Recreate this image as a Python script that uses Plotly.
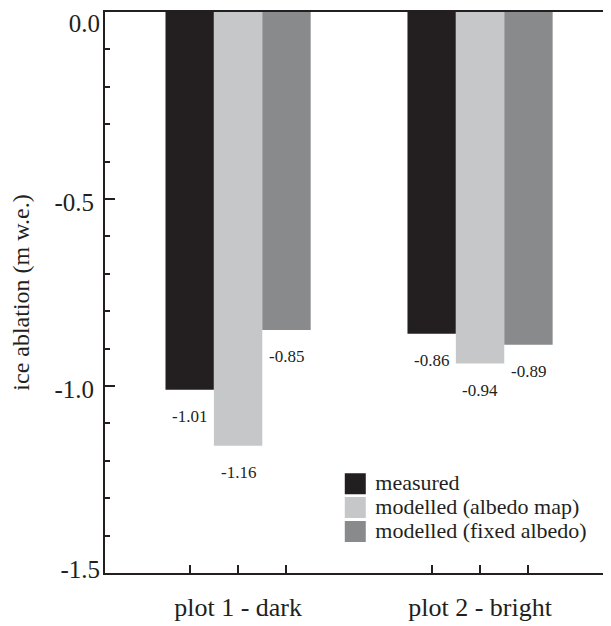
import plotly.graph_objects as go

categories = ["plot 1 - dark", "plot 2 - bright"]
series_names = ["measured", "modelled (albedo map)", "modelled (fixed albedo)"]
measured = [-1.01, -0.86]
albedo_map = [-1.16, -0.94]
fixed_albedo = [-0.85, -0.89]
y_tick_vals = [0.0, -0.5, -1.0, -1.5]
y_tick_text = ["0.0", "-0.5", "-1.0", "-1.5"]
y_title = "ice ablation (m w.e.)"

series_values = [measured, albedo_map, fixed_albedo]
colors = ["#231f20", "#c6c7c9", "#898a8c"]
ink = "#231f20"
FONT = "Liberation Serif, Times New Roman, serif"

n_series = len(series_values)
bargap = 0.4
bar_w = (1 - bargap) / n_series
group_x = list(range(len(categories)))
y_range = [min(y_tick_vals), max(y_tick_vals)]

fig = go.Figure()
for i, (name, vals, col) in enumerate(zip(series_names, series_values, colors)):
    fig.add_trace(go.Bar(
        x=group_x, y=vals, name=name, marker=dict(color=col, line=dict(width=0)),
        showlegend=False, offsetgroup=str(i),
    ))

# legend entries with larger square swatches
for name, col in zip(series_names, colors):
    fig.add_trace(go.Scatter(
        x=[None], y=[None], mode="markers",
        name=f'<span style="font-size:22px">{name}</span>',
        marker=dict(symbol="square", size=16, color=col, line=dict(color=col, width=5)),
    ))

# empty helper traces so the overlay axes (ticks / nudged labels) are drawn
for xa, ya in [("x2", "y"), ("x", "y2"), ("x", "y3"), ("x", "y4")]:
    fig.add_trace(go.Scatter(x=[None], y=[None], xaxis=xa, yaxis=ya, mode="markers",
                             showlegend=False, hoverinfo="skip"))

bar_centers = []
annotations = []
for i, vals in enumerate(series_values):
    for g, v in zip(group_x, vals):
        xc = g + (i - (n_series - 1) / 2) * bar_w
        bar_centers.append(xc)
        annotations.append(dict(
            x=xc, y=v, xref="x", yref="y", text=f"{v:.2f}", showarrow=False,
            yshift=-27, font=dict(size=17, color=ink, family=FONT),
        ))

x_range = [-0.55, 1.537]
tickfont_y = dict(size=25, color=ink, family=FONT)

# inner labels on main axis; end labels nudged inward on overlay axes
main_text = [t if v not in (y_range[0], y_range[1]) else "" for v, t in zip(y_tick_vals, y_tick_text)]
top_idx = y_tick_vals.index(y_range[1])
bot_idx = y_tick_vals.index(y_range[0])

def label_axis(idx, shift):
    return dict(
        overlaying="y", anchor="x", side="left", range=y_range,
        tickvals=[y_tick_vals[idx]], ticktext=[y_tick_text[idx]], ticks="",
        showline=False, showgrid=False, zeroline=False, automargin=False,
        tickfont=tickfont_y, ticklabelstandoff=4, ticklabeloverflow="allow",
        ticklabelshift=shift,
    )

fig.update_layout(
    width=603, height=618,
    margin=dict(l=97, r=1, t=4, b=53, autoexpand=False),
    paper_bgcolor="white", plot_bgcolor="white",
    barmode="group", bargap=bargap, bargroupgap=0,
    font=dict(family=FONT, color=ink),
    annotations=annotations,
    showlegend=True,
    legend=dict(
        x=0.456, y=0.116, xanchor="left", yanchor="middle",
        font=dict(size=16, color=ink, family=FONT),
        bgcolor="rgba(0,0,0,0)", itemsizing="trace", tracegroupgap=0,
    ),
    xaxis=dict(
        range=x_range, tickvals=group_x, ticktext=categories, ticks="",
        showline=True, linecolor=ink, linewidth=2, mirror=True,
        showgrid=False, zeroline=False, automargin=False,
        tickfont=dict(size=26, color=ink, family=FONT),
        ticklabelstandoff=10, ticklabeloverflow="allow",
    ),
    xaxis2=dict(
        overlaying="x", anchor="y", side="bottom", range=x_range,
        tickvals=bar_centers, ticks="inside", ticklen=8, tickwidth=2, tickcolor=ink,
        showticklabels=False, showline=False, showgrid=False, zeroline=False,
        automargin=False,
    ),
    yaxis=dict(
        range=y_range, tickvals=y_tick_vals, ticktext=main_text,
        ticks="inside", ticklen=10, tickwidth=2, tickcolor=ink,
        minor=dict(dtick=0.1, ticks="inside", ticklen=5, tickwidth=2, tickcolor=ink, showgrid=False),
        showline=True, linecolor=ink, linewidth=2,
        showgrid=False, zeroline=False, automargin=False,
        tickfont=tickfont_y, ticklabelshift=3,
        ticklabelstandoff=4, ticklabeloverflow="allow",
        title=dict(text=f'<span style="font-size:24px">{y_title}</span>',
                   font=dict(size=24, color=ink, family=FONT), standoff=18),
    ),
    yaxis2=dict(
        overlaying="y", anchor="x", side="right", range=y_range,
        tickvals=y_tick_vals, ticks="inside", ticklen=7, tickwidth=2, tickcolor=ink,
        minor=dict(dtick=0.1, ticks="inside", ticklen=3, tickwidth=2, tickcolor=ink, showgrid=False),
        showticklabels=False, showline=False, showgrid=False, zeroline=False,
        automargin=False,
    ),
    yaxis3=label_axis(top_idx, 11),
    yaxis4=label_axis(bot_idx, -4),
)

fig.write_html("out.html")
